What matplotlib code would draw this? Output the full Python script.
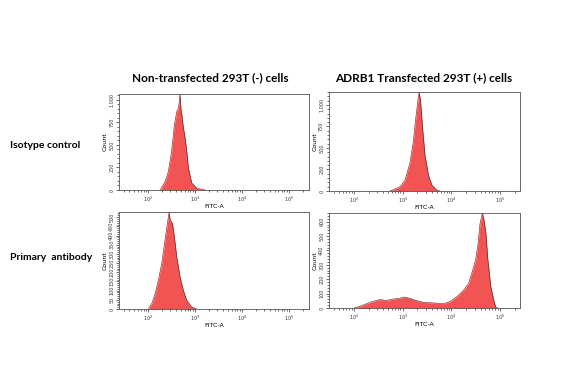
import matplotlib
matplotlib.use("Agg")
import matplotlib.pyplot as plt
import numpy as np
from matplotlib.ticker import FuncFormatter, LogLocator, MultipleLocator, NullFormatter

COLUMN_TITLES = ["Non-transfected 293T (-) cells", "ADRB1 Transfected 293T (+) cells"]
ROW_LABELS = ["Isotype control", "Primary  antibody"]

# FITC-A intensity (log10) and event counts
iso_neg_log = [2.26, 2.36, 2.43, 2.50, 2.56, 2.61, 2.64, 2.66, 2.68, 2.70, 2.72, 2.75,
               2.79, 2.83, 2.86, 2.93, 3.04, 3.21]
iso_neg_count = [0, 92, 200, 426, 722, 870, 900, 963, 1065, 900, 833, 700,
                 574, 400, 241, 78, 19, 0]

iso_pos_log = [2.74, 2.95, 3.05, 3.15, 3.22, 3.27, 3.32, 3.34, 3.37, 3.41, 3.46,
               3.53, 3.60, 3.70, 3.77]
iso_pos_count = [0, 50, 128, 322, 574, 845, 1077, 1150, 1042, 733, 419,
                 186, 70, 12, 0]

ab_neg_log = [2.01, 2.08, 2.15, 2.22, 2.29, 2.36, 2.41, 2.45, 2.47, 2.52, 2.56,
              2.61, 2.68, 2.75, 2.82, 2.92, 3.03]
ab_neg_count = [4, 31, 85, 158, 248, 375, 466, 528, 484, 466, 393,
                284, 176, 103, 49, 13, 0]

ab_pos_log = [2.01, 2.12, 2.26, 2.39, 2.53, 2.67, 2.81, 2.95, 3.05, 3.15, 3.29,
              3.43, 3.64, 3.84, 3.98, 4.12, 4.26, 4.36, 4.43, 4.50, 4.55, 4.59,
              4.64, 4.67, 4.71, 4.75, 4.81, 4.87, 4.91, 4.95]
ab_pos_count = [0, 12, 30, 46, 58, 53, 62, 69, 76, 67, 51,
                39, 35, 30, 46, 81, 127, 174, 254, 335, 451, 590,
                660, 613, 521, 335, 150, 58, 7, 0]

PANELS = [
    # (data log, counts, ylim, major, minor, rect, xlim_log)
    (iso_neg_log, iso_neg_count, 1065, 250, 50, [0.2045, 0.4974, 0.3265, 0.2540], (1.38, 5.43)),
    (iso_pos_log, iso_pos_count, 1150, 250, 50, [0.5653, 0.4947, 0.3282, 0.2619], (1.49, 5.41)),
    (ab_neg_log, ab_neg_count, 528, 50, 10, [0.2045, 0.1825, 0.3265, 0.2566], (1.38, 5.43)),
    (ab_pos_log, ab_pos_count, 660, 100, 20, [0.5653, 0.1852, 0.3282, 0.2513], (1.49, 5.41)),
]

FILL = "#f25454"
EDGE = "#6a1010"


def main() -> None:
    fig = plt.figure(figsize=(5.82, 3.78), dpi=100)

    for log_x, counts, ymax, major, minor, rect, xlim in PANELS:
        ax = fig.add_axes(rect)
        x = 10 ** np.array(log_x, dtype=float)
        y = np.array(counts, dtype=float)
        ax.fill_between(x, 0, y, color=FILL, linewidth=0)
        ax.plot(x, y, color=EDGE, linewidth=0.4)
        ax.set_xscale("log")
        ax.set_xlim(10 ** xlim[0], 10 ** xlim[1])
        ax.set_ylim(0, ymax)

        ax.xaxis.set_major_locator(LogLocator(base=10, numticks=10))
        ax.xaxis.set_minor_locator(LogLocator(base=10, subs=np.arange(2, 10), numticks=10))
        ax.xaxis.set_minor_formatter(NullFormatter())
        ax.yaxis.set_major_locator(MultipleLocator(major))
        ax.yaxis.set_minor_locator(MultipleLocator(minor))
        ax.yaxis.set_major_formatter(FuncFormatter(lambda v, p: f"{int(v):,}"))

        ax.tick_params(which="major", length=2.5, width=0.5, labelsize=3.5, pad=1, colors="#333333")
        ax.tick_params(which="minor", length=1.5, width=0.4)
        for lab in ax.get_yticklabels():
            lab.set_rotation(90)
            lab.set_va("center")
        for s in ax.spines.values():
            s.set_linewidth(0.6)
            s.set_color("#555555")
        ax.set_xlabel("FITC-A", fontsize=4.5, labelpad=0)
        ax.set_ylabel("Count", fontsize=4.5, labelpad=1)

    fig.text(210 / 582, 1 - 78 / 378, COLUMN_TITLES[0], ha="center", va="center",
             fontsize=8.5, family="Lato", weight="bold")
    fig.text(424 / 582, 1 - 78 / 378, COLUMN_TITLES[1], ha="center", va="center",
             fontsize=8.5, family="Lato", weight="bold")
    fig.text(10 / 582, 1 - 145 / 378, ROW_LABELS[0], ha="left", va="center",
             fontsize=7.5, family="Lato", weight="bold")
    fig.text(10 / 582, 1 - 258 / 378, ROW_LABELS[1], ha="left", va="center",
             fontsize=7.5, family="Lato", weight="bold")

    fig.savefig("out.png", dpi=100)
    plt.close(fig)


if __name__ == "__main__":
    main()
